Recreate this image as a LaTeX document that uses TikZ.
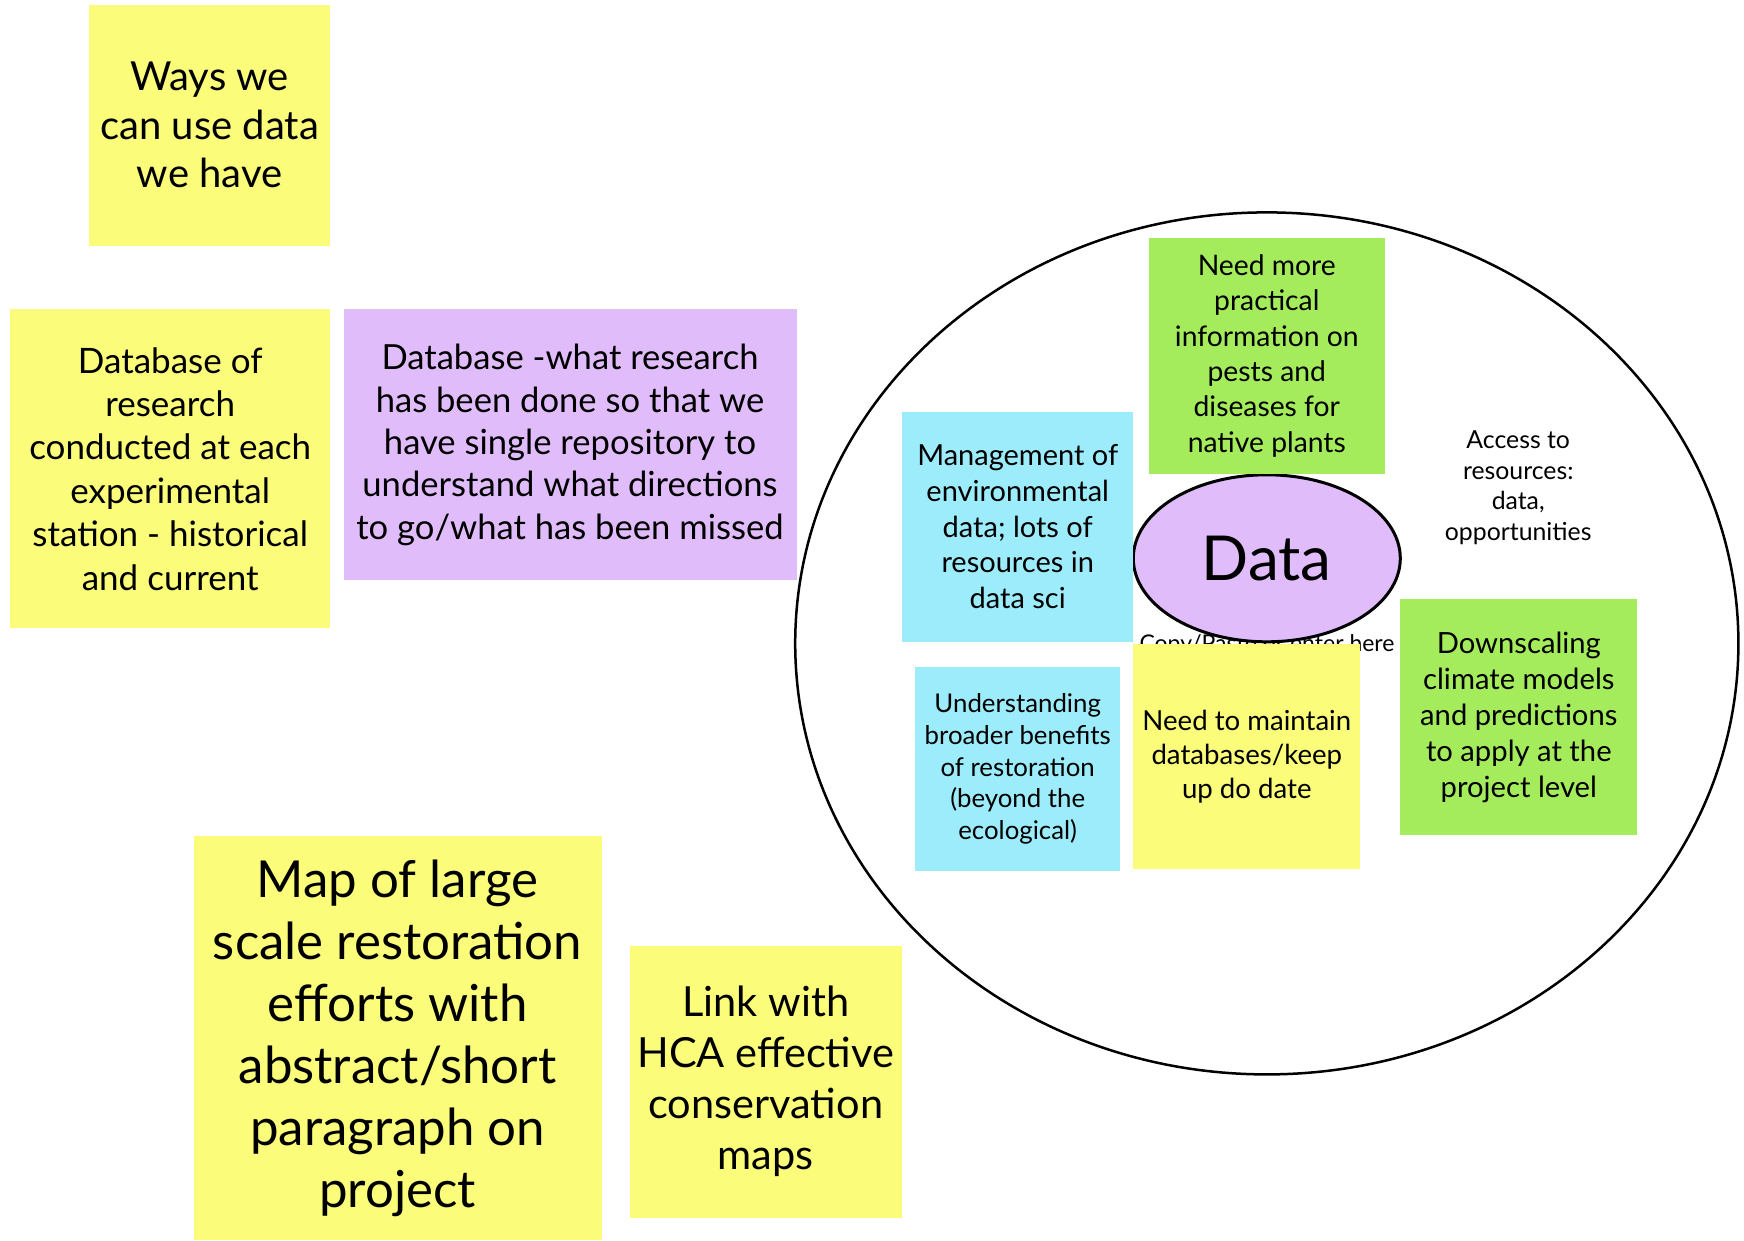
\documentclass[tikz,border=0pt]{standalone}
\usepackage{fontspec}
\setmainfont{Lato}
\usetikzlibrary{shapes.geometric,positioning}

\definecolor{noteyellow}{RGB}{250,252,122}
\definecolor{notepurple}{RGB}{224,189,250}
\definecolor{notecyan}{RGB}{156,236,252}
\definecolor{notegreen}{RGB}{164,236,92}

\tikzset{
    sticky/.style={rectangle, inner sep=0pt, align=center, text=black},
}

\begin{document}
\begin{tikzpicture}[x=1pt,y=-1pt]
    \useasboundingbox (0,0) rectangle (1744,1241);

    % Left side notes
    \node[sticky, fill=noteyellow, minimum width=241pt, minimum height=241pt,
          font=\fontsize{40}{48.5}\selectfont] (ways) at (209.7,125.1)
          {Ways we\\can use data\\we have};
    \node[sticky, fill=noteyellow, minimum width=320pt, minimum height=319pt,
          font=\fontsize{35}{43.4}\selectfont] (dbstation) at (170.2,468.8)
          {Database of\\research\\conducted at each\\experimental\\station - historical\\and current};
    \node[sticky, fill=notepurple, minimum width=453pt, minimum height=271pt,
          font=\fontsize{34.6}{42.3}\selectfont] (dbrepo) at (570,444.9)
          {Database -what research\\has been done so that we\\have single repository to\\understand what directions\\to go/what has been missed};
    \node[sticky, fill=noteyellow, minimum width=408pt, minimum height=404pt,
          font=\fontsize{51}{62}\selectfont] (mapeffort) at (397.6,1038.3)
          {Map of large\\scale restoration\\efforts with\\abstract/short\\paragraph on\\project};
    \node[sticky, fill=noteyellow, minimum width=272pt, minimum height=272pt,
          font=\fontsize{41.5}{51}\selectfont] (hcalink) at (765.8,1081.6)
          {Link with\\HCA effective\\conservation\\maps};

    % Big circle
    \draw[line width=2.5pt] (1266.8,643.4) ellipse [x radius=471.6pt, y radius=431pt];
    \node[anchor=base, font=\fontsize{23}{28}\selectfont] (pastehint) at (1267,651)
          {Copy/Paste or enter here};

    % Centre
    \node[ellipse, draw, line width=3pt, fill=notepurple, inner sep=0pt,
          minimum width=267pt, minimum height=167pt,
          font=\fontsize{62}{70}\selectfont] (data) at (1266.8,558.3) {Data};

    % Notes inside the circle
    \node[sticky, fill=notegreen, minimum width=236pt, minimum height=236pt,
          font=\fontsize{28.3}{35.4}\selectfont] (pests) at (1266.8,355.9)
          {Need more\\practical\\information on\\pests and\\diseases for\\native plants};
    \node[sticky, fill=notecyan, minimum width=231pt, minimum height=230pt,
          font=\fontsize{29}{35.6}\selectfont] (envdata) at (1017.7,526.6)
          {Management of\\environmental\\data; lots of\\resources in\\data sci};
    \node[align=center, font=\fontsize{24.8}{30.8}\selectfont] (access) at (1518.2,487.7)
          {Access to\\resources:\\data,\\opportunities};
    \node[sticky, fill=notegreen, minimum width=237pt, minimum height=236pt,
          font=\fontsize{29.2}{36}\selectfont] (climate) at (1518.8,717.4)
          {Downscaling\\climate models\\and predictions\\to apply at the\\project level};
    \node[sticky, fill=notecyan, minimum width=205pt, minimum height=204pt,
          font=\fontsize{25.8}{31.7}\selectfont] (benefits) at (1017.7,769.1)
          {Understanding\\broader benefits\\of restoration\\(beyond the\\ecological)};
    \node[sticky, fill=noteyellow, minimum width=227pt, minimum height=225pt,
          font=\fontsize{27.6}{34}\selectfont] (maintain) at (1246.8,756.3)
          {Need to maintain\\databases/keep\\up do date};
\end{tikzpicture}
\end{document}
